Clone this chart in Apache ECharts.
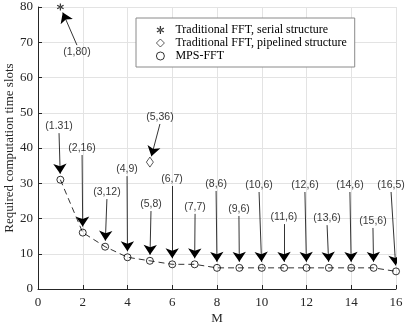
<!DOCTYPE html>
<html>
<head>
<meta charset="utf-8">
<script src="https://cdn.jsdelivr.net/npm/echarts@6/dist/echarts.min.js"></script>
<style>
  html, body { margin: 0; background: #fff; }
  #myChart { width: 416px; height: 328px; }
</style>
</head>
<body>
<div id="myChart"></div>
<script>
// data
const mValues = [1, 2, 3, 4, 5, 6, 7, 8, 9, 10, 11, 12, 13, 14, 15, 16];
const mpsSlots = [31, 16, 12, 9, 8, 7, 7, 6, 6, 6, 6, 6, 6, 6, 6, 5];
const serialPoint = [1, 80];
const pipelinedPoint = [5, 36];
const xTicks = [0, 2, 4, 6, 8, 10, 12, 14, 16];
const yTicks = [0, 10, 20, 30, 40, 50, 60, 70, 80];

// annotations: text, the point it points at, where the text sits (data units)
const annotText = ['(1,80)', '(1.31)', '(2,16)', '(3,12)', '(4,9)', '(5,8)', '(5,36)', '(6,7)', '(7,7)',
  '(8,6)', '(9,6)', '(10,6)', '(11,6)', '(12,6)', '(13,6)', '(14,6)', '(15,6)', '(16,5)'];
const annotTargetX = [1, 1, 2, 3, 4, 5, 5, 6, 7, 8, 9, 10, 11, 12, 13, 14, 15, 16];
const annotTargetY = [80, 31, 16, 12, 9, 8, 36, 7, 7, 6, 6, 6, 6, 6, 6, 6, 6, 5];
const annotLabelX = [1.74, 0.94, 1.97, 3.08, 3.98, 5.05, 5.45, 5.99, 7.02, 7.96, 8.98, 9.88, 10.99, 11.93, 12.92, 13.94, 14.97, 15.78];
const annotLabelY = [67.2, 46.2, 40.0, 27.5, 34.0, 24.1, 48.8, 31.2, 23.3, 29.8, 22.7, 29.5, 20.4, 29.5, 20.1, 29.5, 19.3, 29.5];

// filled asterisk (three crossed bars)
const starPath = 'path://M4.2,0L5.8,0L5.8,10L4.2,10Z' +
  'M8.93,8.19L9.73,6.81L1.07,1.81L0.27,3.19Z' +
  'M9.73,3.19L8.93,1.81L0.27,6.81L1.07,8.19Z';
const serifFont = '"Liberation Serif", "Times New Roman", serif';
const sansFont = '"Liberation Sans", Arial, sans-serif';
const axisColor = '#262626';

let myChart = echarts.init(document.getElementById('myChart'));

let option = {
  animation: false,
  backgroundColor: '#fff',
  grid: { left: 38, right: 20, top: 7, bottom: 39, containLabel: false, outerBoundsMode: 'none' },
  legend: {
    orient: 'vertical',
    left: 136,
    top: 18,
    padding: [6, 8, 5, 20],
    itemGap: 1,
    itemWidth: 8,
    itemHeight: 8,
    borderColor: '#8a8a8a',
    borderWidth: 1,
    backgroundColor: '#fff',
    textStyle: { fontFamily: serifFont, fontSize: 12, color: '#000', padding: [0, 0, 0, 6] },
    data: [
      { name: 'Traditional FFT, serial structure', icon: starPath },
      { name: 'Traditional FFT, pipelined structure', icon: 'diamond', itemStyle: { borderWidth: 0.8 } },
      { name: 'MPS-FFT', icon: 'circle', itemStyle: { borderWidth: 0.8 } }
    ]
  },
  xAxis: {
    type: 'value',
    min: 0,
    max: 16,
    interval: 2,
    name: 'M',
    nameLocation: 'middle',
    nameGap: 23,
    nameMoveOverlap: false,
    nameTextStyle: { fontFamily: serifFont, fontSize: 13, color: axisColor },
    axisLine: { lineStyle: { color: axisColor, width: 1 } },
    axisTick: { inside: true, length: 4, lineStyle: { color: axisColor } },
    axisLabel: {
      fontFamily: serifFont, fontSize: 13, color: axisColor, margin: 7,
      formatter: v => xTicks.indexOf(v) >= 0 ? String(v) : ''
    },
    splitLine: { show: true, lineStyle: { color: '#e3e3e3', width: 1 } }
  },
  yAxis: {
    type: 'value',
    min: 0,
    max: 80,
    interval: 10,
    name: 'Required computation time slots',
    nameLocation: 'middle',
    nameGap: 22,
    nameMoveOverlap: false,
    nameTextStyle: { fontFamily: serifFont, fontSize: 13, color: axisColor },
    axisLine: { show: true, lineStyle: { color: axisColor, width: 1 } },
    axisTick: { show: true, inside: true, length: 4, lineStyle: { color: axisColor } },
    axisLabel: {
      fontFamily: serifFont, fontSize: 13, color: axisColor, margin: 5,
      formatter: v => yTicks.indexOf(v) >= 0 ? String(v) : ''
    },
    splitLine: { show: true, lineStyle: { color: '#e3e3e3', width: 1 } }
  },
  series: [
    {
      name: 'Traditional FFT, serial structure',
      type: 'scatter',
      symbol: starPath,
      symbolSize: 7,
      itemStyle: { color: '#000' },
      data: [serialPoint],
      z: 5
    },
    {
      name: 'Traditional FFT, pipelined structure',
      type: 'scatter',
      symbol: 'diamond',
      symbolSize: [7, 10],
      itemStyle: { color: 'transparent', borderColor: '#000', borderWidth: 0.8 },
      data: [pipelinedPoint],
      z: 5
    },
    {
      name: 'MPS-FFT',
      type: 'line',
      symbol: 'circle',
      symbolSize: 7,
      showAllSymbol: true,
      lineStyle: { color: '#000', width: 0.8, type: [6, 4] },
      itemStyle: { color: 'transparent', borderColor: '#000', borderWidth: 0.8 },
      data: mValues.map((m, i) => [m, mpsSlots[i]]),
      z: 5
    },
    {
      name: 'annotations',
      type: 'scatter',
      symbolSize: 0,
      silent: true,
      label: {
        show: true,
        position: 'inside',
        formatter: p => p.name,
        fontFamily: sansFont,
        fontSize: 10.5,
        color: '#000'
      },
      data: annotText.map((t, i) => ({ name: t, value: [annotLabelX[i], annotLabelY[i]] })),
      z: 6
    },
    {
      id: 'arrows',
      type: 'lines',
      coordinateSystem: 'cartesian2d',
      silent: true,
      symbol: ['none', 'arrow'],
      symbolSize: 10,
      lineStyle: { color: '#000', width: 0.8, opacity: 1 },
      data: [],
      z: 4
    }
  ]
};
myChart.setOption(option, true);

// arrows from each text to its point, worked out in pixels then mapped back to data
let arrows = annotText.map((t, i) => {
  let p = myChart.convertToPixel({ gridIndex: 0 }, [annotTargetX[i], annotTargetY[i]]);
  let l = myChart.convertToPixel({ gridIndex: 0 }, [annotLabelX[i], annotLabelY[i]]);
  let tail = [l[0], l[1] + (l[1] > p[1] ? -7 : 7)];
  let dx = p[0] - tail[0], dy = p[1] - tail[1];
  let len = Math.sqrt(dx * dx + dy * dy);
  let head = [p[0] - dx / len * 6, p[1] - dy / len * 6];
  return {
    coords: [
      myChart.convertFromPixel({ gridIndex: 0 }, tail),
      myChart.convertFromPixel({ gridIndex: 0 }, head)
    ]
  };
});

myChart.setOption({ series: [{ id: 'arrows', data: arrows }] });
</script>
</body>
</html>
